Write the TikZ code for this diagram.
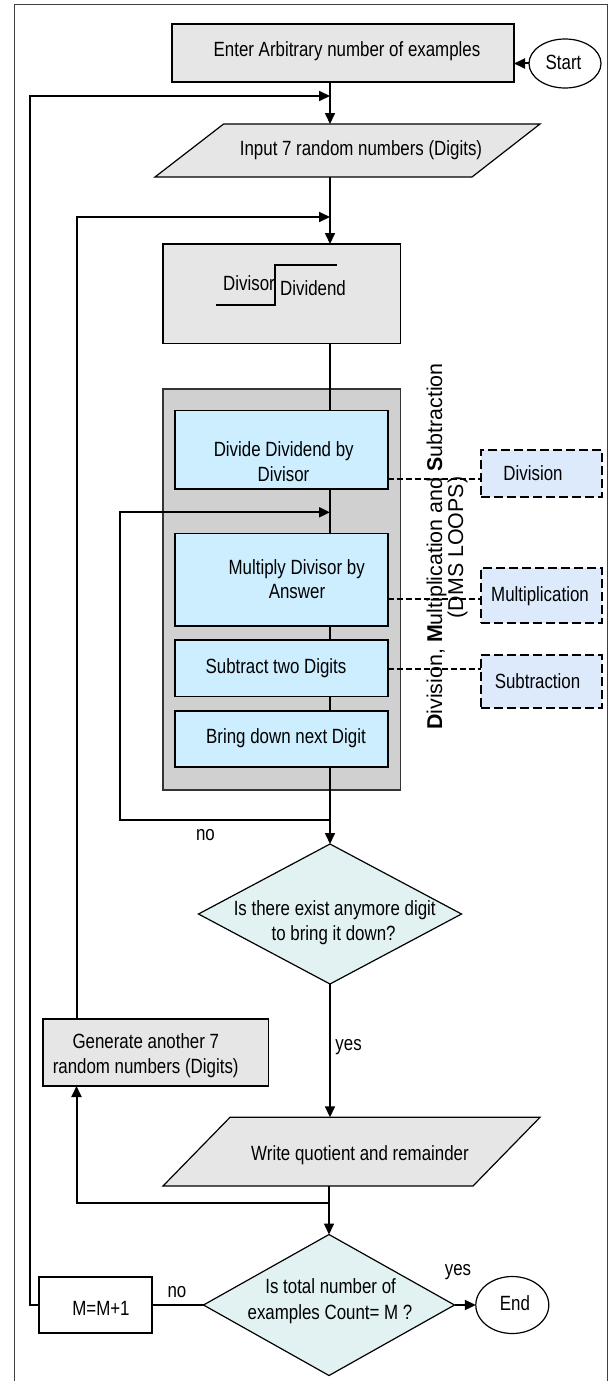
\documentclass[tikz,border=0pt]{standalone}
\usepackage{fontspec}
\setmainfont{Liberation Sans}
\newfontfamily\narrowsf[FakeStretch=0.82]{Liberation Sans}
\usetikzlibrary{arrows.meta,shapes.geometric,calc}

\definecolor{boxgray}{HTML}{E6E6E6}
\definecolor{panelgray}{HTML}{D0D0D0}
\definecolor{stepblue}{HTML}{CCEEFF}
\definecolor{opblue}{HTML}{DCEAFC}
\definecolor{decfill}{HTML}{E2F2F2}

\begin{document}
\begin{tikzpicture}[x=1pt,y=-1pt,
  every node/.style={inner sep=0pt, outer sep=0pt},
  txt/.style={font=\narrowsf\fontsize{20.6}{24}\selectfont, anchor=base},
  rottxt/.style={font=\fontsize{21.4}{24}\selectfont, anchor=base, rotate=90},
  graybox/.style={draw=black, line width=1.2pt, fill=boxgray},
  whitebox/.style={draw=black, line width=1.2pt, fill=white},
  panel/.style={draw=black!80, line width=1.2pt, fill=panelgray},
  stepbox/.style={draw=black, line width=1.2pt, fill=stepblue},
  opbox/.style={draw=black, line width=2pt, dash pattern=on 9pt off 4pt, fill=opblue},
  decision/.style={diamond, draw=black, line width=1.2pt, fill=decfill},
  terminal/.style={ellipse, draw=black, line width=1.2pt, fill=white},
  flow/.style={line width=1.6pt},
  loopline/.style={line width=2pt},
  tip/.style={-{Triangle[length=11pt,width=10pt]}},
  opline/.style={line width=2pt, dash pattern=on 6pt off 3pt},
  framestyle/.style={draw=black!75, line width=1pt}
]
\useasboundingbox (0,0) rectangle (611,1381);

% outer frame
\draw[framestyle] (14,1381) -- (14,5) -- (607,5) -- (607,1381);

% helper coordinates for the main vertical spine and the loop columns
\coordinate (spine) at (330,0);
\coordinate (loop2x) at (76.5,0);

% ---- start and first input ----
\node[graybox, minimum width=342pt, minimum height=58pt] (enter) at (343,53) {};
\node[txt] (t-enter) at (347,56.7) {Enter Arbitrary number of examples};
\node[terminal, minimum width=72pt, minimum height=49pt] (start) at (565,63.5) {};
\node[txt] (t-start) at (563.5,70) {Start};
\draw[loopline,tip] (start.west) -- (start.west -| enter.east);

% input parallelogram
\draw[graybox] (223.6,124) -- (540,124) -- (472,177) -- (155,177) -- cycle;
\coordinate (in-top) at (330,124);
\coordinate (in-bot) at (330,177);
\node[txt] (t-input) at (361,155) {Input 7 random numbers (Digits)};
\draw[flow,tip] (enter.south -| spine) -- (in-top);

% long division layout box
\node[graybox, minimum width=237.5pt, minimum height=99.5pt] (ldiv) at (281.75,293.75) {};
\node[txt] (t-divisor) at (249,290) {Divisor};
\node[txt] (t-dividend) at (313,295) {Dividend};
\draw[line width=1.2pt] (215.7,305) -- (275,305) -- (275,265) -- (336.7,265);
\draw[flow,tip] (in-bot) -- (ldiv.north -| spine);

% ---- DMS loop panel ----
\node[panel, minimum width=237.5pt, minimum height=401pt] (dms) at (281.75,589.5) {};
\node[stepbox, minimum width=213pt, minimum height=78.3pt] (divide) at (281.5,449.85) {};
\node[stepbox, minimum width=213pt, minimum height=92.7pt] (multiply) at (281.5,579.65) {};
\node[stepbox, minimum width=213pt, minimum height=56.7pt] (subtract) at (281.5,668.35) {};
\node[stepbox, minimum width=213pt, minimum height=56pt] (bring) at (281.5,739) {};

\node[txt] (t-div1) at (283.7,456.7) {Divide Dividend by};
\node[txt] (t-div2) at (283.5,481.7) {Divisor};
\node[txt] (t-mul1) at (296.7,574) {Multiply Divisor by};
\node[txt] (t-mul2) at (297,598.3) {Answer};
\node[txt] (t-sub) at (276,673) {Subtract two Digits};
\node[txt] (t-bring) at (286,743) {Bring down next Digit};

\draw[flow] (ldiv.south -| spine) -- (divide.north -| spine);
\draw[flow] (divide.south -| spine) -- (multiply.north -| spine);
\draw[flow] (multiply.south -| spine) -- (subtract.north -| spine);
\draw[flow] (subtract.south -| spine) -- (bring.north -| spine);

% operation boxes
\node[opbox, minimum width=121pt, minimum height=47pt] (op-div) at (541.5,473.5) {};
\node[opbox, minimum width=121pt, minimum height=55pt] (op-mul) at (541.5,595.5) {};
\node[opbox, minimum width=121pt, minimum height=53pt] (op-sub) at (541.5,681.5) {};
\node[txt] (t-opdiv) at (533,480) {Division};
\node[txt] (t-opmul) at (540,601.7) {Multiplication};
\node[txt] (t-opsub) at (537.5,688) {Subtraction};

\draw[opline] ($(divide.south east)+(0,-10)$) coordinate (c-div) -- (c-div -| op-div.west);
\draw[opline] ($(multiply.south east)+(0,-27)$) coordinate (c-mul) -- (c-mul -| op-mul.west);
\draw[opline] ($(subtract.east)+(0,0.65)$) coordinate (c-sub) -- (c-sub -| op-sub.west);

% vertical panel title
\node[rottxt] (dms-title) at (442,546.5) {\textbf{D}ivision, \textbf{M}ultiplication and \textbf{S}ubtraction};
\node[rottxt] (dms-sub) at (463,547.5) {(DMS LOOPS)};

% ---- first decision ----
\node[decision, minimum width=263pt, minimum height=140pt] (more) at (330,914) {};
\node[txt] (t-more1) at (334.7,915) {Is there exist anymore digit};
\node[txt] (t-more2) at (333.6,940) {to bring it down?};
\draw[flow,tip] (bring.south -| spine) -- (more.north);

% "no": back into the DMS loop
\coordinate (no-join) at (330,820);
\coordinate (loop-in) at (330,512.3);
\draw[loopline,tip] (no-join) -- (120,820) |- (loop-in);
\node[txt] (t-no1) at (205.5,840) {no};

% output parallelogram
\draw[graybox] (230,1117.3) -- (540,1117.3) -- (473,1186) -- (163,1186) -- cycle;
\coordinate (out-top) at (330,1117.3);
\coordinate (out-bot) at (330,1186);
\node[txt] (t-out) at (360,1160) {Write quotient and remainder};
\draw[flow,tip] (more.south) -- (out-top);
\node[txt] (t-yes1) at (348.6,1050) {yes};

% new digits
\node[graybox, minimum width=225.4pt, minimum height=67pt] (gen) at (155.7,1052.5) {};
\node[txt] (t-gen1) at (145.8,1048) {Generate another 7};
\node[txt] (t-gen2) at (145.7,1073) {random numbers (Digits)};

% ---- second decision ----
\node[decision, minimum width=251pt, minimum height=141pt] (total) at (329,1305) {};
\node[txt] (t-tot1) at (330.6,1293) {Is total number of};
\node[txt] (t-tot2) at (330,1319) {examples Count= M ?};

\coordinate (gen-join) at (329,1203);
\draw[flow,tip] (out-bot -| total.north) -- (total.north);
\draw[loopline,tip] (gen-join) -| (gen.south -| loop2x);
\coordinate (gen-in) at (330,217);
\draw[loopline,tip] (gen.north -| loop2x) |- (gen-in);

% end
\node[terminal, minimum width=73pt, minimum height=57pt] (end) at (512.3,1305) {};
\node[txt] (t-end) at (515,1310) {End};
\draw[loopline,tip] (total.east) -- (end.west);
\node[txt] (t-yes2) at (458,1275) {yes};

% counter
\node[whitebox, minimum width=113pt, minimum height=56pt] (mbox) at (95.5,1305) {};
\node[txt] (t-m) at (101,1315) {M=M+1};
\draw[flow] (total.west) -- (mbox.east);
\node[txt] (t-no2) at (177,1297) {no};
\coordinate (ex-in) at (330,96);
\draw[loopline,tip] (mbox.west) -- ++(-9,0) |- (ex-in);
\end{tikzpicture}
\end{document}
